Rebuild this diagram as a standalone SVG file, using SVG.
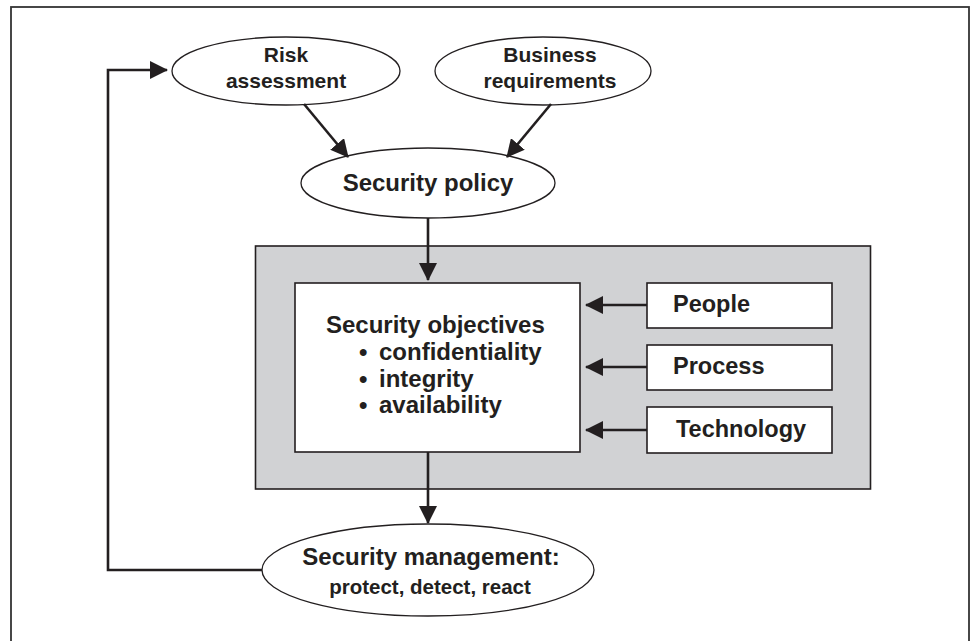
<svg xmlns="http://www.w3.org/2000/svg" width="975" height="641" viewBox="0 0 975 641">
<style>
.t{font-family:"Liberation Sans",Arial,sans-serif;font-weight:bold;fill:#231f20}
.el{fill:#fff;stroke:#231f20;stroke-width:1.3}
.bx{fill:#fff;stroke:#231f20;stroke-width:1.6}
.cn{fill:none;stroke:#231f20;stroke-width:2.6}
</style>
<defs>
<marker id="ah" markerUnits="userSpaceOnUse" markerWidth="18" markerHeight="18" viewBox="0 0 18 18" refX="17" refY="9" orient="auto">
<path d="M0,0 L18,9 L0,18 Z" fill="#231f20"/>
</marker>
</defs>
<rect x="11" y="7" width="958" height="650" fill="#fff" stroke="#333" stroke-width="1.8"/>
<g id="environment">
<rect x="255.5" y="246" width="615" height="243" fill="#d1d2d4" stroke="#231f20" stroke-width="1.6"/>
</g>
<g id="risk">
<ellipse class="el" cx="286" cy="71" rx="114" ry="34"/>
<text class="t" x="286" y="62" font-size="21" text-anchor="middle">Risk</text>
<text class="t" x="286" y="88" font-size="21" text-anchor="middle">assessment</text>
</g>
<g id="business">
<ellipse class="el" cx="543" cy="71" rx="108" ry="34"/>
<text class="t" x="550" y="62" font-size="21" text-anchor="middle">Business</text>
<text class="t" x="550" y="88" font-size="21" text-anchor="middle">requirements</text>
</g>
<g id="policy">
<ellipse class="el" cx="428" cy="183" rx="127" ry="35"/>
<text class="t" x="428" y="191" font-size="24" text-anchor="middle">Security policy</text>
</g>
<g id="objectives">
<rect class="bx" x="295" y="283" width="285" height="169"/>
<text class="t" x="326" y="333" font-size="24">Security objectives</text>
<text class="t" y="360" font-size="24"><tspan x="359">•</tspan><tspan x="379">confidentiality</tspan></text>
<text class="t" y="387" font-size="24"><tspan x="359">•</tspan><tspan x="379">integrity</tspan></text>
<text class="t" y="413" font-size="24"><tspan x="359">•</tspan><tspan x="379">availability</tspan></text>
</g>
<g id="people">
<rect class="bx" x="647" y="283" width="185" height="45"/>
<text class="t" x="673" y="312" font-size="23.5">People</text>
</g>
<g id="process">
<rect class="bx" x="647" y="345" width="185" height="45"/>
<text class="t" x="673" y="374" font-size="23.5">Process</text>
</g>
<g id="technology">
<rect class="bx" x="647" y="407" width="185" height="46"/>
<text class="t" x="676" y="437" font-size="23.5">Technology</text>
</g>
<g id="management">
<ellipse class="el" cx="428" cy="570" rx="166" ry="46"/>
<text class="t" x="431" y="565" font-size="24" text-anchor="middle">Security management:</text>
<text class="t" x="430" y="594" font-size="20.5" text-anchor="middle">protect, detect, react</text>
</g>
<g id="connectors">
<line class="cn" x1="304" y1="104" x2="348" y2="157" marker-end="url(#ah)"/>
<line class="cn" x1="551" y1="104" x2="507" y2="157" marker-end="url(#ah)"/>
<line class="cn" x1="428" y1="218" x2="428" y2="280" marker-end="url(#ah)"/>
<line class="cn" x1="647" y1="305" x2="586" y2="305" marker-end="url(#ah)"/>
<line class="cn" x1="647" y1="367" x2="586" y2="367" marker-end="url(#ah)"/>
<line class="cn" x1="647" y1="430" x2="586" y2="430" marker-end="url(#ah)"/>
<line class="cn" x1="428" y1="452" x2="428" y2="523" marker-end="url(#ah)"/>
<path class="cn" d="M262,570 H108 V70 H167" marker-end="url(#ah)"/>
</g>
</svg>
